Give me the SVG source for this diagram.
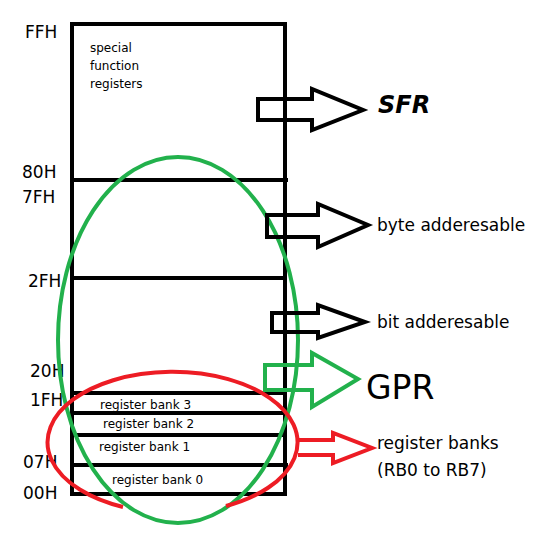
<svg xmlns="http://www.w3.org/2000/svg" width="533" height="544" viewBox="0 0 533 544">
<style>
.ln{stroke:#000;stroke-width:4;fill:none}
.lbl{font-family:"Comic Sans MS","DejaVu Sans",sans-serif;font-size:17px;fill:#000}
.sm{font-family:"Comic Sans MS","DejaVu Sans",sans-serif;font-size:12px;fill:#000}
.big{font-family:"Comic Sans MS","DejaVu Sans",sans-serif;fill:#000}
.arr{fill:none;stroke-width:4;stroke-linejoin:miter}
</style>
<rect width="533" height="544" fill="#fff"/>
<g id="memory">
<rect class="ln" x="72" y="24" width="213" height="470"/>
<line class="ln" x1="72" y1="180" x2="288" y2="180"/>
<line class="ln" x1="72" y1="278" x2="287" y2="278"/>
<line class="ln" x1="72" y1="393" x2="287" y2="393"/>
<line class="ln" x1="72" y1="413" x2="287" y2="413"/>
<line class="ln" x1="72" y1="435" x2="287" y2="435"/>
<line class="ln" x1="72" y1="465" x2="288" y2="465"/>
<text class="sm" x="90" y="52">special</text>
<text class="sm" x="90" y="70">function</text>
<text class="sm" x="90" y="88">registers</text>
<text class="sm" x="100" y="409">register bank 3</text>
<text class="sm" x="103" y="428">register bank 2</text>
<text class="sm" x="99" y="451">register bank 1</text>
<text class="sm" x="112" y="484">register bank 0</text>
</g>
<g id="addresses" class="lbl">
<text x="25" y="38">FFH</text>
<text x="22" y="178">80H</text>
<text x="22" y="203">7FH</text>
<text x="28" y="287">2FH</text>
<text x="30" y="377">20H</text>
<text x="30" y="406">1FH</text>
<text x="23" y="468">07H</text>
<text x="23" y="499">00H</text>
</g>
<g id="gpr-ellipse">
<ellipse cx="178" cy="340" rx="120" ry="183" fill="none" stroke="#22b14c" stroke-width="4"/>
</g>
<g id="bank-ellipse">
<path d="M123,507 A125,70.5 0 1 1 226,506" fill="none" stroke="#ed1c24" stroke-width="4"/>
</g>
<g id="connectors">
<path class="arr" stroke="#000" d="M258,99 H312 V89 L363,110 L312,130 V120 H258 Z"/>
<path class="arr" stroke="#000" d="M267,215 H318 V204 L368,225 L318,247 V237 H267 Z"/>
<path class="arr" stroke="#000" d="M272,313 H318 V305 L365,322 L318,338 V332 H272 Z"/>
<path class="arr" stroke="#22b14c" d="M265,365 H312 V353 L358,379 L312,407 V390 H265 Z"/>
<path class="arr" stroke="#ed1c24" d="M298,440 H333 V433 L372,448 L333,463 V455 H298"/>
</g>
<g id="labels">
<text class="big" x="378" y="113" font-size="24" font-weight="bold" font-style="italic">SFR</text>
<text class="lbl" x="377" y="231">byte adderesable</text>
<text class="lbl" x="377" y="328">bit adderesable</text>
<text class="big" x="366" y="399" font-size="33">GPR</text>
<text class="lbl" x="377" y="449">register banks</text>
<text class="lbl" x="377" y="476">(RB0 to RB7)</text>
</g>
</svg>
